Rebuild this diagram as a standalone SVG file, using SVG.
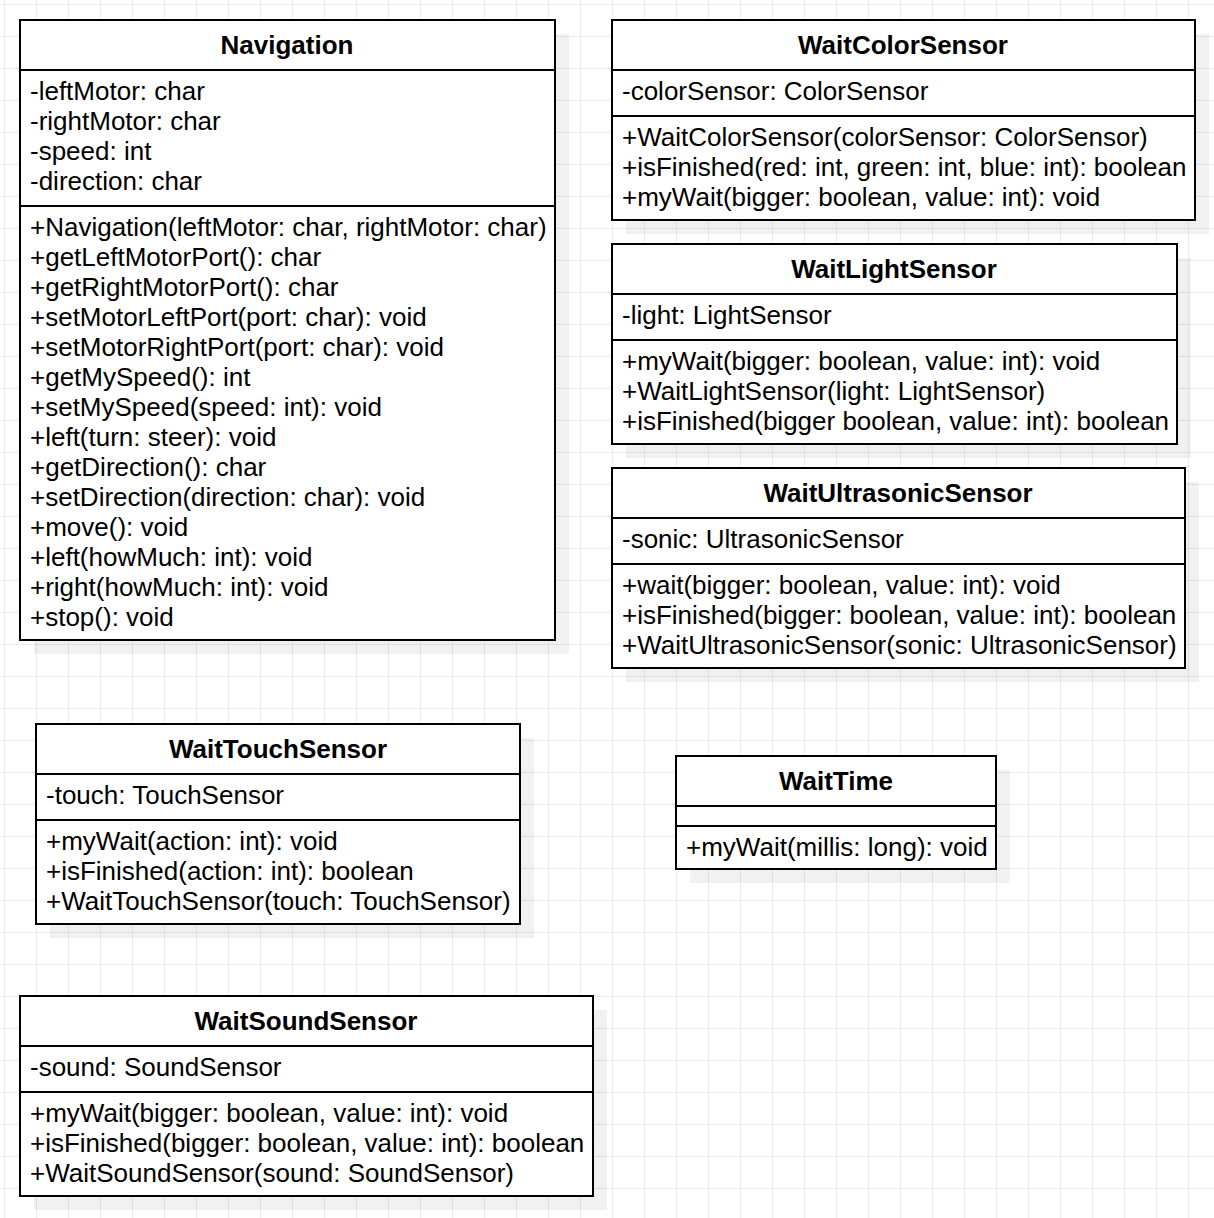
<svg xmlns="http://www.w3.org/2000/svg" width="1214" height="1218" viewBox="0 0 1214 1218">
<defs>
<pattern id="grid" x="4" y="4" width="32" height="32" patternUnits="userSpaceOnUse">
<path d="M0 0.5 H32 M0.5 0 V32" fill="none" stroke="#ebebeb" stroke-width="1"/>
</pattern>
<style>
.box{fill:#fff;stroke:#000;stroke-width:2}
.sh{fill:#000;fill-opacity:0.055}
.div{stroke:#000;stroke-width:2}
.t{font-family:"Liberation Sans",Arial,sans-serif;font-size:26px;fill:#000}
.h{font-family:"Liberation Sans",Arial,sans-serif;font-size:26px;font-weight:bold;fill:#000;text-anchor:middle}
</style>
</defs>
<rect width="1214" height="1218" fill="#fff"/>
<rect width="1214" height="1218" fill="url(#grid)"/>

<g id="Navigation">
<rect class="sh" x="34" y="34" width="535" height="620"/>
<rect class="box" x="20" y="20" width="535" height="620"/>
<line class="div" x1="20" y1="70" x2="555" y2="70"/>
<line class="div" x1="20" y1="206" x2="555" y2="206"/>
<text class="h" x="287" y="54">Navigation</text>
<text class="t" x="30" y="100">-leftMotor: char</text>
<text class="t" x="30" y="130">-rightMotor: char</text>
<text class="t" x="30" y="160">-speed: int</text>
<text class="t" x="30" y="190">-direction: char</text>
<text class="t" x="30" y="236">+Navigation(leftMotor: char, rightMotor: char)</text>
<text class="t" x="30" y="266">+getLeftMotorPort(): char</text>
<text class="t" x="30" y="296">+getRightMotorPort(): char</text>
<text class="t" x="30" y="326">+setMotorLeftPort(port: char): void</text>
<text class="t" x="30" y="356">+setMotorRightPort(port: char): void</text>
<text class="t" x="30" y="386">+getMySpeed(): int</text>
<text class="t" x="30" y="416">+setMySpeed(speed: int): void</text>
<text class="t" x="30" y="446">+left(turn: steer): void</text>
<text class="t" x="30" y="476">+getDirection(): char</text>
<text class="t" x="30" y="506">+setDirection(direction: char): void</text>
<text class="t" x="30" y="536">+move(): void</text>
<text class="t" x="30" y="566">+left(howMuch: int): void</text>
<text class="t" x="30" y="596">+right(howMuch: int): void</text>
<text class="t" x="30" y="626">+stop(): void</text>
</g>

<g id="WaitColorSensor">
<rect class="sh" x="626" y="34" width="583" height="200"/>
<rect class="box" x="612" y="20" width="583" height="200"/>
<line class="div" x1="612" y1="70" x2="1195" y2="70"/>
<line class="div" x1="612" y1="116" x2="1195" y2="116"/>
<text class="h" x="903" y="54">WaitColorSensor</text>
<text class="t" x="622" y="100">-colorSensor: ColorSensor</text>
<text class="t" x="622" y="146">+WaitColorSensor(colorSensor: ColorSensor)</text>
<text class="t" x="622" y="176">+isFinished(red: int, green: int, blue: int): boolean</text>
<text class="t" x="622" y="206">+myWait(bigger: boolean, value: int): void</text>
</g>

<g id="WaitLightSensor">
<rect class="sh" x="626" y="258" width="565" height="200"/>
<rect class="box" x="612" y="244" width="565" height="200"/>
<line class="div" x1="612" y1="294" x2="1177" y2="294"/>
<line class="div" x1="612" y1="340" x2="1177" y2="340"/>
<text class="h" x="894" y="278">WaitLightSensor</text>
<text class="t" x="622" y="324">-light: LightSensor</text>
<text class="t" x="622" y="370">+myWait(bigger: boolean, value: int): void</text>
<text class="t" x="622" y="400">+WaitLightSensor(light: LightSensor)</text>
<text class="t" x="622" y="430">+isFinished(bigger boolean, value: int): boolean</text>
</g>

<g id="WaitUltrasonicSensor">
<rect class="sh" x="626" y="482" width="573" height="200"/>
<rect class="box" x="612" y="468" width="573" height="200"/>
<line class="div" x1="612" y1="518" x2="1185" y2="518"/>
<line class="div" x1="612" y1="564" x2="1185" y2="564"/>
<text class="h" x="898" y="502">WaitUltrasonicSensor</text>
<text class="t" x="622" y="548">-sonic: UltrasonicSensor</text>
<text class="t" x="622" y="594">+wait(bigger: boolean, value: int): void</text>
<text class="t" x="622" y="624">+isFinished(bigger: boolean, value: int): boolean</text>
<text class="t" x="622" y="654">+WaitUltrasonicSensor(sonic: UltrasonicSensor)</text>
</g>

<g id="WaitTouchSensor">
<rect class="sh" x="50" y="738" width="484" height="200"/>
<rect class="box" x="36" y="724" width="484" height="200"/>
<line class="div" x1="36" y1="774" x2="520" y2="774"/>
<line class="div" x1="36" y1="820" x2="520" y2="820"/>
<text class="h" x="278" y="758">WaitTouchSensor</text>
<text class="t" x="46" y="804">-touch: TouchSensor</text>
<text class="t" x="46" y="850">+myWait(action: int): void</text>
<text class="t" x="46" y="880">+isFinished(action: int): boolean</text>
<text class="t" x="46" y="910">+WaitTouchSensor(touch: TouchSensor)</text>
</g>

<g id="WaitTime">
<rect class="sh" x="690" y="770" width="320" height="113"/>
<rect class="box" x="676" y="756" width="320" height="113"/>
<line class="div" x1="676" y1="806" x2="996" y2="806"/>
<line class="div" x1="676" y1="826" x2="996" y2="826"/>
<text class="h" x="836" y="790">WaitTime</text>
<text class="t" x="686" y="856">+myWait(millis: long): void</text>
</g>

<g id="WaitSoundSensor">
<rect class="sh" x="34" y="1010" width="573" height="200"/>
<rect class="box" x="20" y="996" width="573" height="200"/>
<line class="div" x1="20" y1="1046" x2="593" y2="1046"/>
<line class="div" x1="20" y1="1092" x2="593" y2="1092"/>
<text class="h" x="306" y="1030">WaitSoundSensor</text>
<text class="t" x="30" y="1076">-sound: SoundSensor</text>
<text class="t" x="30" y="1122">+myWait(bigger: boolean, value: int): void</text>
<text class="t" x="30" y="1152">+isFinished(bigger: boolean, value: int): boolean</text>
<text class="t" x="30" y="1182">+WaitSoundSensor(sound: SoundSensor)</text>
</g>

<g id="connectors"></g>
</svg>
